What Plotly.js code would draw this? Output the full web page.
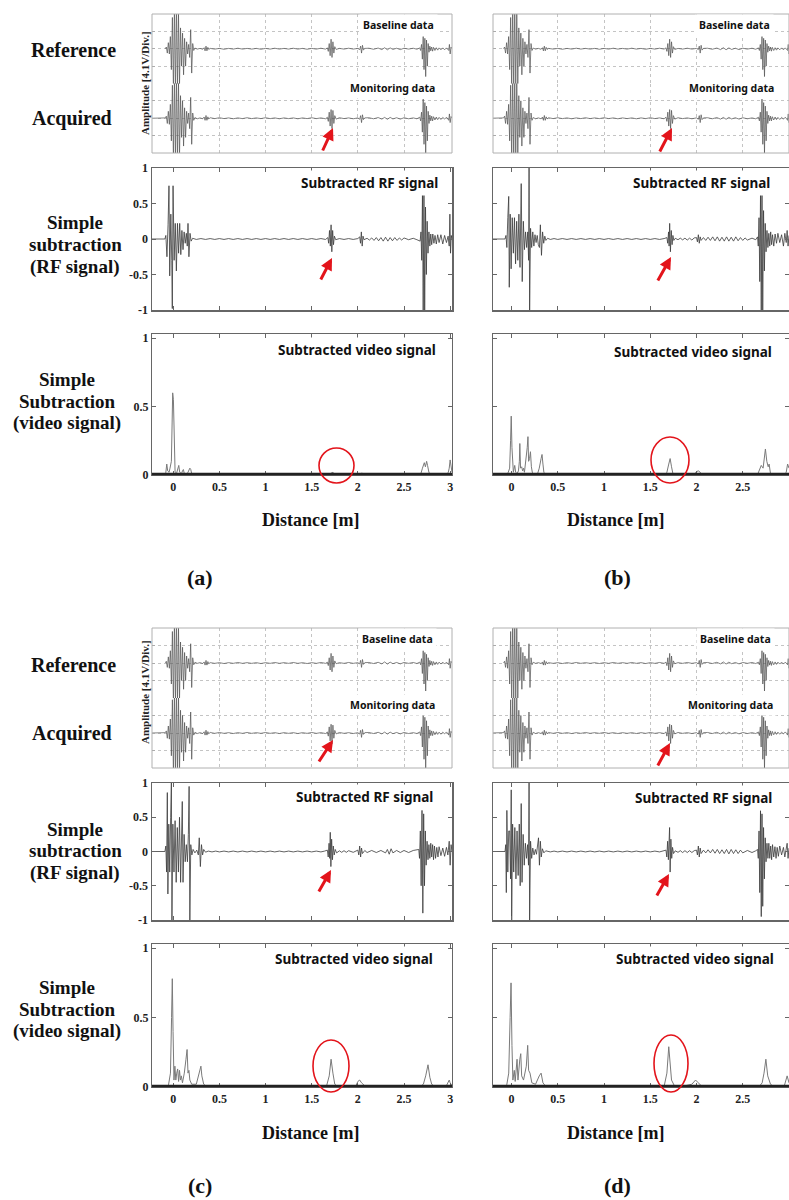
<!DOCTYPE html>
<html><head><meta charset="utf-8">
<script src="https://cdn.plot.ly/plotly-3.0.1.min.js"></script>
<style>html,body{margin:0;padding:0;background:#fff}#plot{width:789px;height:1200px}</style>
</head><body><div id="plot"></div>
<script>
// ---------------- DATA ----------------
// Oscilloscope traces (amplitude in divisions) — [distance m, amplitude]
const baselinePts = [[-0.085,0],[-0.075,0.1],[-0.064,-0.25],[-0.053,0.35],[-0.042,-0.3],[-0.031,0.7],[-0.02,-1.2],[-0.009,1.8],[0.002,-2.4],[0.013,2.4],[0.024,-2.4],[0.035,2.4],[0.046,-2.2],[0.057,2.0],[0.068,-2.1],[0.079,1.2],[0.09,-1.0],[0.101,0.9],[0.112,-1.5],[0.123,0.6],[0.134,-1.0],[0.145,0.4],[0.156,-0.3],[0.167,0.25],[0.178,-0.5],[0.189,1.1],[0.2,-1.4],[0.211,0.3],[0.222,-0.1],[0.235,0.04],[0.26,-0.02],[0.29,0.02],[0.32,-0.03],[0.335,0.06],[0.345,-0.12],[0.355,0.15],[0.365,-0.12],[0.375,0.08],[0.385,-0.04],[0.4,0.02],[0.45,-0.02],[0.5,0.02],[0.55,-0.03],[0.6,0.02],[0.65,-0.02],[0.7,0.03],[0.75,-0.02],[0.8,0.02],[0.85,-0.02],[0.9,0.02],[0.95,-0.03],[1.0,0.02],[1.05,-0.02],[1.1,0.03],[1.15,-0.02],[1.2,0.02],[1.25,-0.02],[1.3,0.03],[1.35,-0.02],[1.4,0.02],[1.45,-0.03],[1.5,0.02],[1.55,-0.02],[1.6,0.03],[1.65,-0.02],[1.67,0.05],[1.68,-0.15],[1.69,0.3],[1.7,-0.4],[1.71,0.55],[1.72,-0.5],[1.73,0.4],[1.74,-0.25],[1.75,0.12],[1.765,-0.04],[1.8,0.02],[1.85,-0.02],[1.9,0.03],[1.95,-0.02],[2.0,0.02],[2.02,-0.05],[2.03,0.15],[2.04,-0.25],[2.05,0.2],[2.06,-0.08],[2.075,0.02],[2.12,0.03],[2.17,-0.03],[2.22,0.04],[2.26,-0.05],[2.29,0.06],[2.32,-0.06],[2.35,0.05],[2.38,-0.04],[2.42,0.03],[2.46,-0.05],[2.5,0.03],[2.55,-0.02],[2.6,0.03],[2.64,-0.03],[2.67,0.05],[2.68,-0.1],[2.69,0.25],[2.699,-0.6],[2.708,0.7],[2.717,-1.2],[2.726,0.6],[2.735,-1.6],[2.744,0.5],[2.753,-1.0],[2.762,0.3],[2.771,-0.2],[2.78,0.15],[2.79,-0.12],[2.8,0.1],[2.81,-0.14],[2.82,0.08],[2.835,-0.1],[2.85,0.06],[2.865,-0.08],[2.88,0.05],[2.9,-0.06],[2.92,0.05],[2.94,-0.06],[2.96,0.05],[2.975,-0.04],[2.985,-0.1],[2.992,0.25],[3.0,-0.3],[3.01,0.1],[3.02,0]];

const monitoringPts = [[-0.23,0],[-0.085,0.02],[-0.075,0.12],[-0.064,-0.3],[-0.053,0.4],[-0.042,-0.35],[-0.031,0.8],[-0.02,-1.3],[-0.009,1.9],[0.002,-2.4],[0.013,2.4],[0.024,-2.4],[0.035,2.4],[0.046,-2.3],[0.057,2.1],[0.068,-2.2],[0.079,1.3],[0.09,-1.1],[0.101,1.0],[0.112,-1.6],[0.123,0.6],[0.134,-1.1],[0.145,0.4],[0.156,-0.3],[0.167,0.3],[0.178,-0.6],[0.189,1.2],[0.2,-1.5],[0.211,0.3],[0.222,-0.12],[0.235,0.04],[0.26,-0.03],[0.29,0.02],[0.32,-0.03],[0.335,0.07],[0.345,-0.12],[0.355,0.16],[0.365,-0.12],[0.375,0.08],[0.385,-0.04],[0.4,0.03],[0.45,-0.02],[0.5,0.03],[0.55,-0.02],[0.6,0.02],[0.65,-0.03],[0.7,0.02],[0.75,-0.02],[0.8,0.03],[0.85,-0.02],[0.9,0.02],[0.95,-0.02],[1.0,0.03],[1.05,-0.02],[1.1,0.02],[1.15,-0.03],[1.2,0.02],[1.25,-0.02],[1.3,0.02],[1.35,-0.03],[1.4,0.02],[1.45,-0.02],[1.5,0.03],[1.55,-0.02],[1.6,0.02],[1.65,-0.03],[1.67,0.06],[1.68,-0.18],[1.69,0.35],[1.7,-0.45],[1.71,0.5],[1.72,-0.6],[1.73,0.45],[1.74,-0.3],[1.75,0.15],[1.765,-0.05],[1.8,0.03],[1.85,-0.02],[1.9,0.02],[1.95,-0.03],[2.0,0.02],[2.02,-0.06],[2.03,0.15],[2.04,-0.25],[2.05,0.2],[2.06,-0.08],[2.075,0.02],[2.12,0.03],[2.17,-0.03],[2.22,0.04],[2.26,-0.05],[2.29,0.05],[2.32,-0.06],[2.35,0.05],[2.38,-0.04],[2.42,0.03],[2.46,-0.05],[2.5,0.03],[2.55,-0.03],[2.6,0.02],[2.64,-0.03],[2.67,0.06],[2.68,-0.15],[2.69,0.35],[2.699,-0.8],[2.708,1.1],[2.717,-1.5],[2.726,0.9],[2.735,-2.0],[2.744,0.7],[2.753,-1.3],[2.762,0.4],[2.771,-0.3],[2.78,0.18],[2.79,-0.15],[2.8,0.12],[2.81,-0.15],[2.82,0.09],[2.835,-0.1],[2.85,0.07],[2.865,-0.08],[2.88,0.05],[2.9,-0.07],[2.92,0.05],[2.94,-0.05],[2.96,0.06],[2.975,-0.04],[2.985,-0.12],[2.992,0.25],[3.0,-0.25],[3.01,0.1],[3.02,0]];

// Subtracted RF signals (normalized)
const rfA = [[-0.23,0],[-0.09,0],[-0.08,0.05],[-0.068,-0.25],[-0.056,0.2],[-0.046,0.75],[-0.038,-0.52],[-0.026,0.35],[-0.016,-0.3],[-0.01,-0.98],[-0.002,0.75],[0.01,-0.3],[0.022,0.22],[0.034,-0.45],[0.046,0.22],[0.058,-0.2],[0.07,0.22],[0.082,-0.22],[0.094,0.12],[0.106,-0.15],[0.118,0.1],[0.13,-0.06],[0.142,0.08],[0.152,-0.1],[0.16,0.22],[0.17,-0.25],[0.182,0.08],[0.194,-0.03],[0.21,0.01],[0.25,-0.006],[0.3,0.006],[0.35,-0.006],[0.4,0.006],[0.45,-0.006],[0.5,0.006],[0.55,-0.006],[0.6,0.006],[0.65,-0.006],[0.7,0.006],[0.75,-0.006],[0.8,0.006],[0.85,-0.006],[0.9,0.006],[0.95,-0.006],[1.0,0.006],[1.05,-0.006],[1.1,0.006],[1.15,-0.006],[1.2,0.006],[1.25,-0.006],[1.3,0.006],[1.35,-0.006],[1.4,0.006],[1.45,-0.006],[1.5,0.006],[1.55,-0.006],[1.6,0.006],[1.65,-0.006],[1.675,0.02],[1.684,-0.06],[1.693,0.12],[1.702,-0.1],[1.71,0.2],[1.718,-0.18],[1.727,0.12],[1.736,-0.08],[1.746,0.04],[1.76,-0.01],[1.8,0.006],[1.85,-0.006],[1.9,0.006],[1.95,-0.006],[2.0,0.006],[2.02,0.03],[2.029,-0.06],[2.038,0.1],[2.047,-0.1],[2.056,0.04],[2.066,-0.01],[2.1,0.01],[2.125,-0.015],[2.15,0.015],[2.175,-0.02],[2.2,0.02],[2.225,-0.025],[2.25,0.02],[2.275,-0.03],[2.3,0.025],[2.325,-0.03],[2.35,0.02],[2.375,-0.025],[2.4,0.02],[2.425,-0.02],[2.45,0.015],[2.475,-0.015],[2.5,0.015],[2.55,-0.01],[2.6,0.01],[2.64,-0.01],[2.675,-0.03],[2.684,0.1],[2.692,-0.3],[2.7,0.62],[2.708,-1.0],[2.716,0.62],[2.724,-1.0],[2.733,0.45],[2.742,-0.5],[2.751,0.25],[2.76,-0.2],[2.77,0.1],[2.78,-0.1],[2.79,0.07],[2.8,-0.08],[2.812,0.07],[2.824,-0.06],[2.836,0.05],[2.85,-0.07],[2.865,0.06],[2.88,-0.05],[2.9,0.06],[2.92,-0.07],[2.94,0.05],[2.96,-0.05],[2.978,0.04],[2.99,-0.1],[2.997,0.35],[3.004,-0.2],[3.012,0.05],[3.02,0]];

const rfB = [[-0.21,0],[-0.07,0],[-0.06,0.05],[-0.05,-0.12],[-0.04,0.3],[-0.03,0.6],[-0.024,-0.68],[-0.014,0.35],[-0.004,-0.42],[0.008,0.3],[0.02,-0.2],[0.032,0.3],[0.044,-0.35],[0.056,0.25],[0.068,-0.3],[0.08,0.35],[0.092,-0.4],[0.105,0.78],[0.116,-0.6],[0.128,0.25],[0.14,-0.15],[0.152,0.1],[0.164,-0.12],[0.176,0.1],[0.185,-0.3],[0.19,1.0],[0.196,-1.0],[0.206,0.15],[0.218,-0.12],[0.23,0.1],[0.242,-0.1],[0.254,0.06],[0.266,-0.05],[0.278,0.05],[0.29,-0.08],[0.302,-0.12],[0.312,0.2],[0.324,-0.23],[0.336,0.1],[0.348,-0.06],[0.36,0.04],[0.372,-0.02],[0.39,0.01],[0.42,-0.006],[0.46,0.006],[0.5,-0.006],[0.55,0.006],[0.6,-0.006],[0.65,0.006],[0.7,-0.006],[0.75,0.006],[0.8,-0.006],[0.85,0.006],[0.9,-0.006],[0.95,0.006],[1.0,-0.006],[1.05,0.006],[1.1,-0.006],[1.15,0.006],[1.2,-0.006],[1.25,0.006],[1.3,-0.006],[1.35,0.006],[1.4,-0.006],[1.45,0.006],[1.5,-0.006],[1.55,0.006],[1.6,-0.006],[1.65,0.006],[1.68,0.02],[1.689,-0.06],[1.698,0.1],[1.704,-0.1],[1.71,0.22],[1.718,-0.18],[1.727,0.12],[1.736,-0.08],[1.745,0.05],[1.755,-0.02],[1.77,0.01],[1.8,-0.01],[1.825,0.012],[1.85,-0.012],[1.875,0.012],[1.9,-0.015],[1.925,0.012],[1.95,-0.015],[1.975,0.015],[2.0,0.02],[2.01,-0.04],[2.02,0.06],[2.03,-0.06],[2.04,0.03],[2.05,-0.02],[2.075,0.02],[2.1,-0.02],[2.125,0.025],[2.15,-0.02],[2.175,0.03],[2.2,-0.025],[2.225,0.03],[2.25,-0.03],[2.275,0.025],[2.3,-0.03],[2.325,0.03],[2.35,-0.03],[2.375,0.025],[2.4,-0.03],[2.425,0.03],[2.45,-0.025],[2.475,0.02],[2.5,-0.02],[2.525,0.015],[2.55,-0.015],[2.6,0.012],[2.64,-0.01],[2.66,0.03],[2.668,-0.1],[2.676,0.3],[2.684,-0.6],[2.692,0.62],[2.7,-1.0],[2.708,0.62],[2.716,-1.0],[2.725,0.4],[2.734,-0.45],[2.743,0.22],[2.752,-0.18],[2.762,0.12],[2.772,-0.12],[2.782,0.08],[2.792,-0.1],[2.802,0.1],[2.812,-0.08],[2.822,0.06],[2.835,-0.1],[2.85,0.07],[2.865,-0.06],[2.88,0.08],[2.9,-0.05],[2.92,0.06],[2.94,-0.1],[2.955,0.08],[2.97,-0.05],[2.98,0.12],[2.99,-0.1],[3.0,0.05]];

const rfC = [[-0.23,0],[-0.09,0],[-0.08,0.08],[-0.072,-0.3],[-0.064,0.86],[-0.058,-0.62],[-0.048,0.4],[-0.038,-0.3],[-0.028,0.5],[-0.02,1.0],[-0.014,-1.0],[-0.004,0.4],[0.008,-0.3],[0.02,0.45],[0.032,-0.45],[0.044,0.35],[0.056,-0.3],[0.068,0.5],[0.08,-0.45],[0.092,0.3],[0.098,0.73],[0.106,-0.45],[0.118,0.25],[0.13,-0.15],[0.142,0.1],[0.154,-0.15],[0.164,0.25],[0.172,0.95],[0.18,-1.0],[0.19,0.1],[0.202,-0.05],[0.215,0.03],[0.235,-0.02],[0.255,0.02],[0.272,-0.05],[0.282,0.2],[0.294,-0.22],[0.306,0.1],[0.318,-0.05],[0.33,0.03],[0.35,-0.01],[0.38,0.006],[0.42,-0.006],[0.46,0.006],[0.5,-0.006],[0.55,0.006],[0.6,-0.006],[0.65,0.006],[0.7,-0.006],[0.75,0.006],[0.8,-0.006],[0.85,0.006],[0.9,-0.006],[0.95,0.006],[1.0,-0.006],[1.05,0.006],[1.1,-0.006],[1.15,0.006],[1.2,-0.006],[1.25,0.006],[1.3,-0.006],[1.35,0.006],[1.4,-0.006],[1.45,0.006],[1.5,-0.006],[1.55,0.006],[1.6,-0.006],[1.64,0.006],[1.67,0.02],[1.679,-0.08],[1.688,0.12],[1.695,-0.1],[1.701,0.28],[1.708,-0.22],[1.716,0.18],[1.725,-0.12],[1.734,0.08],[1.744,-0.05],[1.755,0.03],[1.77,-0.02],[1.8,0.01],[1.825,-0.012],[1.85,0.012],[1.875,-0.012],[1.9,0.012],[1.95,-0.012],[2.0,0.02],[2.01,-0.05],[2.02,0.08],[2.03,-0.08],[2.04,0.05],[2.05,-0.03],[2.075,0.015],[2.1,-0.015],[2.15,0.015],[2.2,-0.015],[2.25,0.015],[2.3,-0.02],[2.32,0.03],[2.34,-0.04],[2.36,0.04],[2.38,-0.02],[2.42,0.015],[2.46,-0.015],[2.5,0.015],[2.55,-0.015],[2.6,0.015],[2.66,0.03],[2.668,-0.1],[2.677,0.3],[2.686,-0.5],[2.695,0.6],[2.704,-0.9],[2.713,0.55],[2.722,-0.5],[2.731,0.3],[2.74,-0.2],[2.75,0.15],[2.76,-0.12],[2.77,0.1],[2.78,-0.1],[2.79,0.12],[2.8,-0.08],[2.81,0.1],[2.82,-0.12],[2.83,0.08],[2.842,-0.1],[2.855,0.06],[2.868,-0.08],[2.88,0.07],[2.9,-0.06],[2.92,0.05],[2.94,-0.07],[2.96,0.06],[2.975,-0.05],[2.99,0.15],[3.0,-0.2],[3.01,0.1],[3.02,0]];

const rfD = [[-0.21,0],[-0.07,0],[-0.062,0.1],[-0.056,-0.6],[-0.05,0.6],[-0.04,-0.3],[-0.03,0.3],[-0.02,0.3],[-0.01,-0.4],[-0.003,0.9],[0.002,-1.0],[0.012,0.4],[0.024,-0.3],[0.036,0.35],[0.048,-0.4],[0.06,0.3],[0.072,-0.35],[0.084,0.4],[0.094,-0.5],[0.105,0.7],[0.114,-0.45],[0.126,0.25],[0.138,-0.2],[0.15,0.12],[0.162,-0.1],[0.174,0.1],[0.184,-0.2],[0.19,1.0],[0.196,-1.0],[0.206,0.15],[0.218,-0.1],[0.23,0.05],[0.244,-0.05],[0.258,0.03],[0.27,-0.04],[0.282,0.08],[0.292,0.2],[0.302,-0.2],[0.312,0.15],[0.322,-0.08],[0.334,0.04],[0.35,-0.02],[0.37,0.01],[0.42,-0.006],[0.46,0.006],[0.5,-0.006],[0.55,0.006],[0.6,-0.006],[0.65,0.006],[0.7,-0.006],[0.75,0.006],[0.8,-0.006],[0.85,0.006],[0.9,-0.006],[0.95,0.006],[1.0,-0.006],[1.05,0.006],[1.1,-0.006],[1.15,0.006],[1.2,-0.006],[1.25,0.006],[1.3,-0.006],[1.35,0.006],[1.4,-0.006],[1.45,0.006],[1.5,-0.006],[1.55,0.006],[1.6,-0.006],[1.64,0.006],[1.67,0.02],[1.679,-0.08],[1.688,0.15],[1.696,-0.12],[1.703,0.2],[1.709,0.35],[1.715,-0.3],[1.723,0.18],[1.732,-0.1],[1.741,0.06],[1.752,-0.03],[1.77,0.01],[1.8,-0.012],[1.825,0.012],[1.85,-0.015],[1.875,0.012],[1.9,-0.015],[1.925,0.012],[1.95,-0.015],[1.975,0.012],[2.0,0.02],[2.01,-0.05],[2.02,0.08],[2.03,-0.08],[2.04,0.05],[2.05,-0.03],[2.075,0.02],[2.1,-0.02],[2.125,0.025],[2.15,-0.02],[2.175,0.03],[2.2,-0.025],[2.225,0.03],[2.25,-0.03],[2.275,0.025],[2.3,-0.03],[2.325,0.03],[2.35,-0.035],[2.375,0.03],[2.4,-0.03],[2.425,0.025],[2.45,-0.03],[2.475,0.02],[2.5,-0.02],[2.55,0.015],[2.6,-0.015],[2.64,0.01],[2.66,0.03],[2.668,-0.1],[2.676,0.3],[2.684,-0.6],[2.692,0.6],[2.7,-0.95],[2.708,0.55],[2.716,-0.8],[2.725,0.35],[2.734,-0.4],[2.743,0.2],[2.752,-0.15],[2.762,0.12],[2.772,-0.1],[2.782,0.12],[2.792,-0.1],[2.802,0.08],[2.812,-0.12],[2.822,0.1],[2.835,-0.08],[2.848,0.07],[2.86,-0.1],[2.872,0.06],[2.885,-0.07],[2.9,0.08],[2.92,-0.05],[2.94,0.06],[2.955,-0.08],[2.97,0.07],[2.98,0.12],[2.99,-0.1],[3.0,0.05]];

// Subtracted video signals (0..1)
const vidA = [[-0.23,0],[-0.09,0],[-0.08,0.02],[-0.07,0.08],[-0.06,0.03],[-0.045,0.02],[-0.035,0.05],[-0.02,0.1],[-0.012,0.38],[-0.006,0.6],[0.002,0.55],[0.01,0.2],[0.02,0.02],[0.035,0.01],[0.05,0.04],[0.06,0.07],[0.07,0.02],[0.09,0.01],[0.1,0.03],[0.11,0.04],[0.12,0.01],[0.14,0.005],[0.16,0.02],[0.17,0.04],[0.18,0.05],[0.19,0.04],[0.2,0.01],[0.22,0.003],[0.35,0.003],[0.36,0.01],[0.37,0.003],[1.68,0.003],[1.7,0.008],[1.72,0.015],[1.73,0.02],[1.74,0.012],[1.76,0.003],[2.02,0.003],[2.035,0.012],[2.045,0.015],[2.06,0.006],[2.08,0.002],[2.44,0.002],[2.46,0.006],[2.48,0.002],[2.68,0.003],[2.7,0.05],[2.72,0.09],[2.732,0.06],[2.745,0.1],[2.755,0.07],[2.77,0.02],[2.79,0.005],[2.96,0.005],[2.98,0.02],[2.99,0.05],[3.0,0.11],[3.01,0.05],[3.02,0.02]];

const vidB = [[-0.21,0],[-0.05,0],[-0.035,0.02],[-0.02,0.05],[-0.01,0.25],[-0.003,0.43],[0.005,0.2],[0.012,0.03],[0.02,0.02],[0.035,0.07],[0.045,0.02],[0.06,0.01],[0.075,0.03],[0.085,0.1],[0.09,0.23],[0.098,0.05],[0.11,0.06],[0.12,0.03],[0.13,0.05],[0.14,0.02],[0.155,0.1],[0.17,0.2],[0.178,0.28],[0.185,0.1],[0.195,0.12],[0.205,0.17],[0.215,0.06],[0.225,0.02],[0.24,0.005],[0.26,0.01],[0.28,0.005],[0.3,0.05],[0.32,0.12],[0.33,0.15],[0.34,0.08],[0.35,0.02],[0.37,0.005],[0.4,0],[1.66,0],[1.68,0.02],[1.7,0.08],[1.715,0.12],[1.73,0.06],[1.745,0.01],[1.77,0],[1.98,0.005],[2.0,0.025],[2.02,0.03],[2.04,0.02],[2.06,0.005],[2.2,0],[2.38,0.002],[2.4,0.01],[2.42,0.002],[2.66,0.003],[2.68,0.04],[2.7,0.07],[2.72,0.05],[2.735,0.15],[2.745,0.19],[2.76,0.1],[2.775,0.06],[2.785,0.08],[2.8,0.01],[2.82,0.005],[2.95,0.005],[2.97,0.02],[2.985,0.08],[3.0,0.05]];

const vidC = [[-0.23,0],[-0.06,0],[-0.05,0.02],[-0.03,0.1],[-0.018,0.5],[-0.01,0.78],[-0.002,0.4],[0.008,0.05],[0.018,0.15],[0.028,0.05],[0.038,0.1],[0.048,0.13],[0.058,0.04],[0.068,0.12],[0.078,0.05],[0.088,0.08],[0.1,0.03],[0.12,0.1],[0.138,0.2],[0.15,0.27],[0.16,0.1],[0.17,0.12],[0.18,0.05],[0.2,0.02],[0.25,0.02],[0.28,0.1],[0.3,0.15],[0.31,0.08],[0.33,0.02],[0.36,0.005],[1.66,0.005],[1.69,0.08],[1.71,0.2],[1.73,0.1],[1.75,0.02],[1.78,0.005],[1.98,0.01],[2.0,0.04],[2.02,0.05],[2.04,0.03],[2.08,0.005],[2.68,0.005],[2.71,0.02],[2.735,0.08],[2.76,0.16],[2.78,0.07],[2.8,0.02],[2.83,0.005],[2.96,0.01],[2.99,0.05],[3.0,0.03],[3.02,0.01]];

const vidD = [[-0.21,0],[-0.06,0],[-0.05,0.02],[-0.03,0.1],[-0.015,0.5],[-0.005,0.75],[0.005,0.3],[0.015,0.05],[0.03,0.12],[0.04,0.04],[0.06,0.2],[0.07,0.05],[0.09,0.2],[0.1,0.24],[0.11,0.08],[0.13,0.05],[0.16,0.15],[0.175,0.3],[0.185,0.12],[0.2,0.1],[0.22,0.03],[0.26,0.02],[0.3,0.08],[0.32,0.1],[0.34,0.03],[0.37,0.005],[1.65,0.005],[1.68,0.1],[1.7,0.29],[1.715,0.15],[1.73,0.05],[1.76,0.01],[1.85,0.005],[1.95,0.02],[1.99,0.05],[2.02,0.03],[2.05,0.01],[2.68,0.005],[2.71,0.03],[2.73,0.1],[2.75,0.2],[2.77,0.08],[2.8,0.02],[2.83,0.005],[2.95,0.01],[2.98,0.08],[3.0,0.03]];

// Tick labels
const rfTickVals = [-1, -0.5, 0, 0.5, 1];
const rfTickText = ['-1', '-0.5', '0', '0.5', '1'];
const vidTickVals = [0, 0.5, 1];
const vidTickText = ['0', '0.5', '1'];
const distTickVals = [0, 0.5, 1, 1.5, 2, 2.5, 3];
const distTickText = ['0', '0.5', '1', '1.5', '2', '2.5', '3'];
const scopeGridX = [0.5, 1, 1.5, 2, 2.5];
const scopeGridDiv = [-2, -1, 0, 1];   // divisions (per half screen) carrying a dotted grid line
const panelLetters = ['(a)', '(b)', '(c)', '(d)'];

// ---------------- LAYOUT ----------------
const W = 789, H = 1200;
const PX = x => x / W, PY = y => 1 - y / H;
const cols = [{x0: 152, x1: 452, range: [-0.23, 3.02]}, {x0: 493, x1: 789, range: [-0.2, 3.0]}];
const rows = [{top: [14, 153], rf: [168, 310], vid: [334, 475]}, {top: [628, 768], rf: [783, 920], vid: [944, 1087]}];
const panels = [
  {col: 0, row: 0, rf: rfA, vid: vidA},
  {col: 1, row: 0, rf: rfB, vid: vidB},
  {col: 0, row: 1, rf: rfC, vid: vidC},
  {col: 1, row: 1, rf: rfD, vid: vidD}
];
const xk = n => n === 1 ? 'xaxis' : 'xaxis' + n;
const yk = n => n === 1 ? 'yaxis' : 'yaxis' + n;
const xr = n => n === 1 ? 'x' : 'x' + n;
const yr = n => n === 1 ? 'y' : 'y' + n;

const serif = 'Liberation Serif, Times New Roman, serif';
const sans = 'Noto Sans, Open Sans, sans-serif';
const tickFont = {family: serif, size: 12, color: '#222', weight: 'bold'};
const frame = '#666';
const gridCol = '#c4c4c4';

const layout = {
  width: W, height: H, margin: {l: 0, r: 0, t: 0, b: 0},
  paper_bgcolor: '#fff', plot_bgcolor: 'rgba(0,0,0,0)', showlegend: false, hovermode: false,
  annotations: [], shapes: []
};
const traces = [];
const col = p => p.map(v => v[0]);
const val = p => p.map(v => v[1]);

panels.forEach((p, i) => {
  const c = cols[p.col], r = rows[p.row];
  const xt = 3 * i + 1, xrf = 3 * i + 2, xv = 3 * i + 3;
  const yb = 4 * i + 1, ym = 4 * i + 2, yrf = 4 * i + 3, yv = 4 * i + 4;
  const xd = [PX(c.x0), PX(c.x1)];
  const mid = (r.top[0] + r.top[1]) / 2;
  // scope subplot: two half-screen axes sharing one distance axis
  layout[xk(xt)] = {domain: xd, range: c.range, anchor: yr(ym), tickvals: scopeGridX, showticklabels: false,
    showgrid: true, gridcolor: gridCol, griddash: 'dot', gridwidth: 1, ticks: '', showline: false,
    zeroline: false, fixedrange: true};
  const half = {range: [-2, 2], anchor: xr(xt), tickvals: scopeGridDiv, showticklabels: false, showgrid: true,
    gridcolor: gridCol, griddash: 'dot', gridwidth: 1, ticks: 'inside', ticklen: 3, tickcolor: '#aaa',
    showline: false, zeroline: false, fixedrange: true};
  layout[yk(yb)] = Object.assign({domain: [PY(mid), PY(r.top[0])]}, half);
  layout[yk(ym)] = Object.assign({domain: [PY(r.top[1]), PY(mid)]}, half);
  layout.shapes.push({type: 'rect', xref: 'paper', yref: 'paper', x0: PX(c.x0), x1: PX(c.x1),
    y0: PY(r.top[1]), y1: PY(r.top[0]), line: {color: '#b0b0b0', width: 1}});
  traces.push({x: col(baselinePts), y: val(baselinePts), xaxis: xr(xt), yaxis: yr(yb), mode: 'lines',
    line: {color: '#505050', width: 0.7}, hoverinfo: 'skip'});
  traces.push({x: col(monitoringPts), y: val(monitoringPts), xaxis: xr(xt), yaxis: yr(ym), mode: 'lines',
    line: {color: '#505050', width: 0.7}, hoverinfo: 'skip'});
  // RF subplot
  layout[xk(xrf)] = {domain: xd, range: c.range, anchor: yr(yrf), tickvals: distTickVals, ticktext: distTickText,
    showticklabels: false, ticks: 'inside', ticklen: 4, tickcolor: frame, showline: true, mirror: 'ticks',
    linecolor: frame, linewidth: 1.5, showgrid: false, zeroline: false, fixedrange: true};
  layout[yk(yrf)] = {domain: [PY(r.rf[1]), PY(r.rf[0])], range: [-1, 1], anchor: xr(xrf), tickvals: rfTickVals,
    ticktext: rfTickText, showticklabels: p.col === 0, tickfont: tickFont, ticks: 'inside', ticklen: 4,
    tickcolor: frame, showline: true, mirror: 'ticks', linecolor: frame, linewidth: 1.5, showgrid: false,
    zeroline: false, fixedrange: true};
  traces.push({x: col(p.rf), y: val(p.rf), xaxis: xr(xrf), yaxis: yr(yrf), mode: 'lines',
    line: {color: '#3a3a3a', width: 0.8}, hoverinfo: 'skip'});
  // video subplot
  layout[xk(xv)] = {domain: xd, range: c.range, anchor: yr(yv), tickvals: distTickVals, ticktext: distTickText,
    showticklabels: true, tickfont: tickFont, ticks: 'inside', ticklen: 4, tickcolor: frame, showline: true,
    mirror: 'ticks', linecolor: frame, linewidth: 1.2, showgrid: false, zeroline: false, fixedrange: true};
  layout[yk(yv)] = {domain: [PY(r.vid[1]), PY(r.vid[0])], range: [0, 1.03], anchor: xr(xv), tickvals: vidTickVals,
    ticktext: vidTickText, showticklabels: p.col === 0, tickfont: tickFont, ticks: 'inside', ticklen: 4,
    tickcolor: frame, showline: true, mirror: 'ticks', linecolor: frame, linewidth: 1.2, showgrid: false,
    zeroline: false, fixedrange: true};
  traces.push({x: col(p.vid), y: val(p.vid), xaxis: xr(xv), yaxis: yr(yv), mode: 'lines',
    line: {color: '#7a7a7a', width: 1}, hoverinfo: 'skip'});
  // thick zero line of the video signal
  layout.shapes.push({type: 'line', xref: 'paper', yref: 'paper', x0: PX(c.x0), x1: PX(c.x1),
    y0: PY(r.vid[1] - 1), y1: PY(r.vid[1] - 1), line: {color: '#222', width: 2.5}});
});

// ---------- text ----------
function txt(t, x, y, font, opts) {
  layout.annotations.push(Object.assign({text: t, x: PX(x), y: PY(y), xref: 'paper', yref: 'paper',
    showarrow: false, xanchor: 'center', yanchor: 'middle', font: font}, opts || {}));
}
const labSmall = {family: sans, size: 10.5, color: '#111', weight: 'bold'};
const labMid = {family: sans, size: 13.5, color: '#111', weight: 'bold'};
const rowLab = {family: serif, size: 20, color: '#111', weight: 'bold'};
const subLab = {family: serif, size: 19, color: '#111', weight: 'bold'};

const inPlot = [
  // [text, rightX, y, font]
  ['Baseline data', 438, 25, labSmall], ['Monitoring data', 439, 88, labSmall],
  ['Subtracted RF signal', 442, 183, labMid], ['Subtracted video signal', 440, 350, labMid],
  ['Baseline data', 774, 25, labSmall], ['Monitoring data', 778, 88, labSmall],
  ['Subtracted RF signal', 774, 183, labMid], ['Subtracted video signal', 776, 352, labMid],
  ['Baseline data', 437, 639, labSmall], ['Monitoring data', 439, 705, labSmall],
  ['Subtracted RF signal', 437, 797, labMid], ['Subtracted video signal', 437, 959, labMid],
  ['Baseline data', 775, 639, labSmall], ['Monitoring data', 777, 705, labSmall],
  ['Subtracted RF signal', 776, 798, labMid], ['Subtracted video signal', 778, 959, labMid]
];
inPlot.forEach(a => txt(a[0], a[1], a[2], a[3], {xanchor: 'right', bgcolor: '#fff', borderpad: 3}));

const labelRows = [
  {ref: 50, acq: 118, rf: [223, 245, 267], vid: [379, 401, 423], amp: 83, dist: 520},
  {ref: 665, acq: 733, rf: [829, 851, 873], vid: [987, 1009, 1031], amp: 692, dist: 1133}
];
labelRows.forEach(L => {
  txt('Reference', 73, L.ref, rowLab);
  txt('Acquired', 72, L.acq, rowLab);
  txt('Simple', 75, L.rf[0], subLab);
  txt('subtraction', 75, L.rf[1], subLab);
  txt('(RF signal)', 75, L.rf[2], subLab);
  txt('Simple', 67, L.vid[0], subLab);
  txt('Subtraction', 67, L.vid[1], subLab);
  txt('(video signal)', 67, L.vid[2], subLab);
  txt('Amplitude [4.1V/Div.]', 145, L.amp, {family: serif, size: 11, color: '#222', weight: 'bold'}, {textangle: -90});
  txt('Distance [m]', 310, L.dist, {family: serif, size: 18, color: '#111', weight: 'bold'});
  txt('Distance [m]', 615, L.dist, {family: serif, size: 18, color: '#111', weight: 'bold'});
});
txt(panelLetters[0], 200, 577, {family: serif, size: 22, color: '#111', weight: 'bold'});
txt(panelLetters[1], 617, 577, {family: serif, size: 22, color: '#111', weight: 'bold'});
txt(panelLetters[2], 200, 1185, {family: serif, size: 22, color: '#111', weight: 'bold'});
txt(panelLetters[3], 617, 1185, {family: serif, size: 22, color: '#111', weight: 'bold'});

// ---------- red arrows & circles ----------
const red = '#e3141b';
const arrows = [ // head x, head y, tail x, tail y
  [333, 128, 322, 152], [672, 128, 659, 153], [333, 740, 318, 763], [670, 743, 657, 767],
  [332, 258, 320, 281], [671, 257, 657, 282], [331, 870, 318, 893], [669, 874, 656, 897]
];
arrows.forEach(a => layout.annotations.push({x: PX(a[0]), y: PY(a[1]), xref: 'paper', yref: 'paper', text: '',
  showarrow: true, ax: a[2] - a[0], ay: a[3] - a[1], arrowhead: 2, arrowsize: 0.8, arrowwidth: 3, arrowcolor: red}));
const circles = [[319, 448, 354, 483], [651, 437, 689, 483], [313, 1040, 349, 1092], [654, 1035, 688, 1092]];
circles.forEach(c => layout.shapes.push({type: 'circle', xref: 'paper', yref: 'paper', x0: PX(c[0]), x1: PX(c[2]),
  y0: PY(c[3]), y1: PY(c[1]), line: {color: red, width: 1.6}}));

Plotly.newPlot('plot', traces, layout, {staticPlot: true, displayModeBar: false});
</script></body></html>
